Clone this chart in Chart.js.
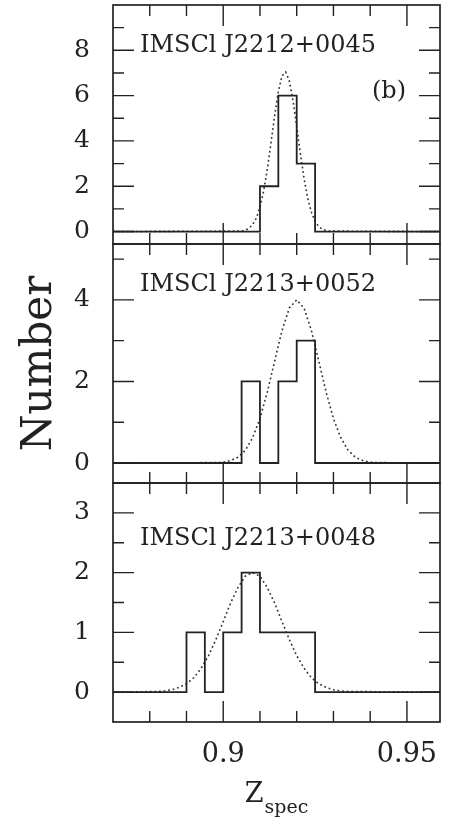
<!DOCTYPE html>
<html>
<head>
<meta charset="utf-8">
<script src="https://cdn.jsdelivr.net/npm/chart.js@4.4.1/dist/chart.umd.min.js"></script>
<style>
  html, body { margin: 0; padding: 0; background: #fff; }
  #chart { display: block; }
</style>
</head>
<body>
<canvas id="chart" width="458" height="826"></canvas>
<script>
// cluster names, one per panel (top to bottom)
const panelNames = ['IMSCl J2212+0045', 'IMSCl J2213+0052', 'IMSCl J2213+0048'];

// histograms: left edge of each step and the count in that step
const binEdges1 = [0.870, 0.910, 0.915, 0.920, 0.925, 0.959];
const counts1   = [0, 2, 6, 3, 0, 0];
const binEdges2 = [0.870, 0.905, 0.910, 0.915, 0.920, 0.925, 0.959];
const counts2   = [0, 2, 0, 2, 3, 0, 0];
const binEdges3 = [0.870, 0.890, 0.895, 0.900, 0.905, 0.910, 0.925, 0.959];
const counts3   = [0, 1, 0, 1, 2, 1, 0, 0];

// dotted gaussian fits
const fitZ1 = [0.870, 0.905, 0.906, 0.907, 0.908, 0.909, 0.910, 0.911, 0.912, 0.913, 0.914, 0.915, 0.916,
               0.917, 0.918, 0.919, 0.920, 0.921, 0.922, 0.923, 0.924, 0.925, 0.926, 0.927, 0.928, 0.929, 0.959];
const fit1  = [0, 0.02, 0.06, 0.14, 0.30, 0.59, 1.07, 1.79, 2.75, 3.91, 5.12, 6.18, 6.87,
               7.04, 6.65, 5.78, 4.64, 3.43, 2.34, 1.47, 0.85, 0.45, 0.22, 0.10, 0.04, 0.02, 0];
const fitZ2 = [0.870, 0.898, 0.900, 0.902, 0.904, 0.906, 0.908, 0.910, 0.912, 0.914, 0.916, 0.918, 0.920,
               0.922, 0.924, 0.926, 0.928, 0.930, 0.932, 0.934, 0.936, 0.938, 0.940, 0.942, 0.959];
const fit2  = [0, 0.01, 0.02, 0.06, 0.14, 0.31, 0.62, 1.09, 1.74, 2.50, 3.25, 3.80, 4.00,
               3.80, 3.25, 2.50, 1.74, 1.09, 0.62, 0.31, 0.14, 0.06, 0.02, 0.01, 0];
const fitZ3 = [0.870, 0.882, 0.884, 0.886, 0.888, 0.890, 0.892, 0.894, 0.896, 0.898, 0.900, 0.902, 0.904, 0.906,
               0.908, 0.910, 0.912, 0.914, 0.916, 0.918, 0.920, 0.922, 0.924, 0.926, 0.928, 0.930, 0.932, 0.934, 0.959];
const fit3  = [0, 0.01, 0.02, 0.04, 0.08, 0.14, 0.24, 0.40, 0.61, 0.88, 1.18, 1.49, 1.75, 1.94,
               2.00, 1.94, 1.75, 1.49, 1.18, 0.88, 0.61, 0.40, 0.24, 0.14, 0.08, 0.04, 0.02, 0.01, 0];

// axis ticks
const xMajor = [0.9, 0.95];
const xMinor = [0.88, 0.89, 0.91, 0.92, 0.93, 0.94];
const yMajor = [[0, 2, 4, 6, 8], [0, 2, 4], [0, 1, 2, 3]];
const yMinor = [[1, 3, 5, 7, 9], [1, 3, 5], [0.5, 1.5, 2.5]];

const ink = '#222';
const serif = '"DejaVu Serif", "Liberation Serif", serif';
const titleDrop = [47, 47, 62];   // baseline of panel name below panel top

const pts = (xs, ys) => xs.map((x, i) => ({ x: x, y: ys[i] }));

function histSet(edges, counts, axis) {
  return { data: pts(edges, counts), yAxisID: axis, stepped: 'before', borderColor: ink,
           borderWidth: 1.8, pointRadius: 0, fill: false };
}
function fitSet(z, v, axis) {
  return { data: pts(z, v), yAxisID: axis, borderColor: '#333', borderWidth: 1.6,
           borderDash: [1.8, 2.8], pointRadius: 0, fill: false, tension: 0 };
}

function noPad(s) {
  s.paddingTop = 0; s.paddingBottom = 0;
}

function yAxis(min, max, i, weight) {
  return {
    type: 'linear', position: 'left', stack: 'panels', stackWeight: 1, weight: weight,
    min: min, max: max,
    grid: { display: false }, border: { display: false },
    afterBuildTicks: s => { s.ticks = yMajor[i].map(v => ({ value: v })); },
    afterFit: s => { s.width = 113; noPad(s); },
    ticks: { color: ink, padding: 15, font: { family: serif, size: 25 } }
  };
}

const framePlugin = {
  id: 'frame',
  afterDraw(chart) {
    const ctx = chart.ctx, a = chart.chartArea, xs = chart.scales.x;
    ctx.save();
    ctx.strokeStyle = ink;
    ctx.fillStyle = ink;
    const seg = (x1, y1, x2, y2) => { ctx.moveTo(x1, y1); ctx.lineTo(x2, y2); };
    for (let i = 0; i < 3; i++) {
      const ys = chart.scales['y' + (i + 1)];
      ctx.lineWidth = 1.7;
      ctx.strokeRect(a.left, ys.top, a.right - a.left, ys.bottom - ys.top);
      ctx.lineWidth = 1.4;
      ctx.beginPath();
      yMajor[i].forEach(v => { const y = ys.getPixelForValue(v); seg(a.left, y, a.left + 21, y); seg(a.right, y, a.right - 21, y); });
      yMinor[i].forEach(v => { const y = ys.getPixelForValue(v); seg(a.left, y, a.left + 11, y); seg(a.right, y, a.right - 11, y); });
      xMajor.forEach(v => { const x = xs.getPixelForValue(v); seg(x, ys.top, x, ys.top + 21); seg(x, ys.bottom, x, ys.bottom - 21); });
      xMinor.forEach(v => { const x = xs.getPixelForValue(v); seg(x, ys.top, x, ys.top + 11); seg(x, ys.bottom, x, ys.bottom - 11); });
      ctx.stroke();
      ctx.font = '24px ' + serif;
      ctx.textAlign = 'left';
      ctx.textBaseline = 'alphabetic';
      ctx.fillText(panelNames[i], a.left + 27, ys.top + titleDrop[i]);
    }
    ctx.textAlign = 'right';
    ctx.fillText('(b)', a.right - 34, chart.scales.y1.top + 93);

    // y title
    ctx.save();
    ctx.translate(40, (a.top + a.bottom) / 2);
    ctx.rotate(-Math.PI / 2);
    ctx.textAlign = 'center';
    ctx.textBaseline = 'middle';
    ctx.font = '42px ' + serif;
    ctx.fillText('Number', 0, 0);
    ctx.restore();

    // x title with subscript
    ctx.textAlign = 'left';
    ctx.font = '27px ' + serif;
    const wZ = ctx.measureText('Z').width;
    ctx.font = '19px ' + serif;
    const wS = ctx.measureText('spec').width;
    const x0 = (a.left + a.right) / 2 - (wZ + 1 + wS) / 2;
    ctx.font = '27px ' + serif;
    ctx.fillText('Z', x0, 802);
    ctx.font = '19px ' + serif;
    ctx.fillText('spec', x0 + wZ + 1, 813);
    ctx.restore();
  }
};

new Chart(document.getElementById('chart'), {
  type: 'line',
  data: {
    datasets: [
      histSet(binEdges1, counts1, 'y1'), fitSet(fitZ1, fit1, 'y1'),
      histSet(binEdges2, counts2, 'y2'), fitSet(fitZ2, fit2, 'y2'),
      histSet(binEdges3, counts3, 'y3'), fitSet(fitZ3, fit3, 'y3')
    ]
  },
  options: {
    responsive: false,
    animation: false,
    layout: { padding: { top: 5, right: 18, left: 0, bottom: 0 } },
    plugins: { legend: { display: false }, tooltip: { enabled: false } },
    scales: {
      x: {
        type: 'linear', position: 'bottom', min: 0.87, max: 0.959,
        grid: { display: false }, border: { display: false },
        afterBuildTicks: s => { s.ticks = xMajor.map(v => ({ value: v })); },
        afterFit: s => { s.height = 104; },
        ticks: { color: ink, padding: 9, maxRotation: 0, font: { family: serif, size: 27 },
                 callback: v => String(v) }
      },
      y1: yAxis(-0.55, 10, 0, 3),
      y2: yAxis(-0.49, 5.37, 1, 2),
      y3: yAxis(-0.5, 3.5, 2, 1)
    }
  },
  plugins: [framePlugin]
});
</script>
</body>
</html>
